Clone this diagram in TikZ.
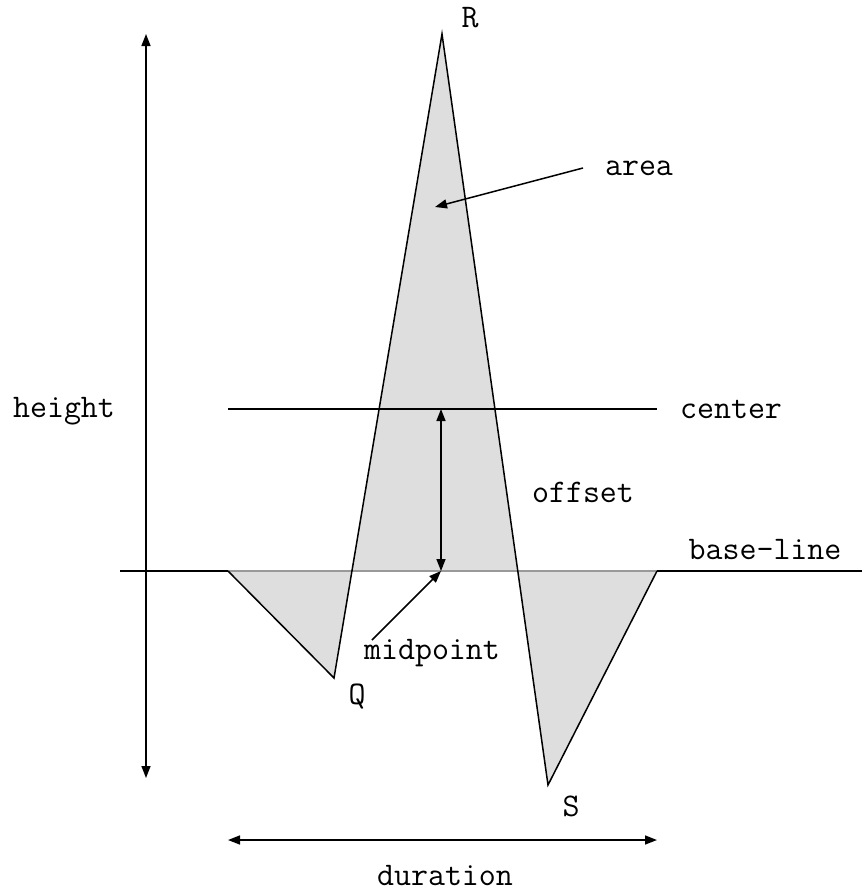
\documentclass[tikz,border=0pt]{standalone}
\usepackage{fontspec}
\usetikzlibrary{arrows.meta}
\definecolor{wavefill}{HTML}{DEDEDE}
\definecolor{baseinside}{HTML}{999999}
\begin{document}
\begin{tikzpicture}[x=1pt,y=-1pt,>={Triangle[length=12pt,width=9pt]},
        lbl/.style={font=\ttfamily\fontsize{33}{33}\selectfont,inner sep=0pt},
        wave/.style={line width=1.5pt,line join=miter},
        guide/.style={line width=1.5pt}]
    \useasboundingbox (0,0) rectangle (862,895);

    % wave corners
    \coordinate (start) at (228,571);
    \coordinate (q) at (334,678);
    \coordinate (r) at (442,34);
    \coordinate (s) at (548,785);
    \coordinate (stop) at (657,571);
    \coordinate (mid) at (441,571);
    \coordinate (cen) at (441,409);

    \fill[wavefill] (start) -- (q) -- (r) -- (s) -- (stop) -- cycle;
    \draw[baseinside,guide] (start) -- (stop);
    \draw[wave] (start) -- (q) -- (r) -- (s) -- (stop);

    % base-line and center
    \coordinate (bl0) at (120,571);
    \coordinate (bl1) at (862,571);
    \draw[guide] (bl0) -- (start);
    \draw[guide] (stop) -- (bl1);
    \coordinate (c0) at (228,409);
    \coordinate (c1) at (657,409);
    \draw[guide] (c0) -- (c1);

    % labels
    \node[lbl] (rlab) at (470,18) {R};
    \node[lbl] (qlab) at (357,697) {Q};
    \node[lbl] (slab) at (571,806) {S};
    \node[lbl] (area) at (639,168) {area};
    \node[lbl] (height) at (64,411) {height};
    \node[lbl] (center) at (731,409) {center};
    \node[lbl] (offset) at (583,492) {offset};
    \node[lbl] (baseline) at (765,550) {base-line};
    \node[lbl] (midpoint) at (432,653) {midpoint};
    \node[lbl] (duration) at (445,876) {duration};

    % dimension arrows
    \coordinate (h0) at (146,34);
    \coordinate (h1) at (146,778);
    \draw[guide,<->] (h0) -- (h1);
    \coordinate (d0) at (228,840);
    \coordinate (d1) at (657,840);
    \draw[guide,<->] (d0) -- (d1);
    \draw[guide,<->] (cen) -- (mid);

    % pointers
    \coordinate (areatail) at (583,168);
    \coordinate (areatip) at (435,207);
    \draw[guide,->] (areatail) -- (areatip);
    \coordinate (midtail) at (372,640);
    \draw[guide,->] (midtail) -- (mid);
\end{tikzpicture}
\end{document}
